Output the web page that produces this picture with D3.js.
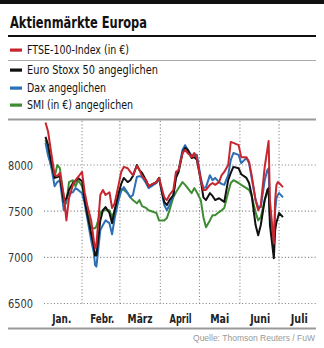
<!DOCTYPE html>
<html><head><meta charset="utf-8">
<script src="https://cdn.jsdelivr.net/npm/d3@7/dist/d3.min.js"></script>
<style>
html,body{margin:0;padding:0;background:#fff;}
svg{display:block;}
.nar{font-family:'DejaVu Sans Condensed','Liberation Sans Narrow','DejaVu Sans',sans-serif;}
</style></head>
<body>
<svg id="c" width="324" height="348"></svg>
<script>
const title = "Aktienmärkte Europa";
const source = "Quelle: Thomson Reuters / FuW";
const seriesNames = ["FTSE-100-Index (in €)", "Euro Stoxx 50 angeglichen", "Dax angeglichen", "SMI (in €) angeglichen"];
const seriesColors = ["#c8262e", "#111111", "#2b6fb6", "#3f8c34"];
const monthLabels = ["Jan.", "Febr.", "März", "April", "Mai", "Juni", "Juli"];
const yTicks = [6500, 7000, 7500, 8000];

const dates = ["01-04","01-06","01-08","01-11","01-13","01-15","01-18","01-20","01-22","01-25",
"01-27","01-29","02-01","02-03","02-05","02-08","02-10","02-11","02-12","02-15",
"02-17","02-19","02-22","02-24","02-26","02-29","03-02","03-04","03-07","03-09",
"03-11","03-14","03-16","03-18","03-21","03-23","03-29","03-31","04-04","04-06",
"04-08","04-11","04-13","04-15","04-18","04-20","04-22","04-25","04-27","04-29",
"05-02","05-04","05-06","05-09","05-11","05-13","05-16","05-18","05-20","05-23",
"05-25","05-27","05-31","06-02","06-06","06-08","06-10","06-13","06-15","06-17",
"06-20","06-22","06-23","06-24","06-27","06-28","06-29","06-30","07-01","07-04"];

const ftse = [8460,8360,8165,7890,7880,7915,7675,7400,7640,7785,
7835,7870,7925,7705,7565,7400,7185,7100,7130,7675,
7730,7675,7705,7535,7585,7785,7925,7980,7965,7925,
7890,7990,7945,7880,7835,7770,7815,7860,7650,7620,
7675,7730,7925,7945,8130,8165,8130,8085,8130,8075,
7835,7730,7730,7785,7805,7785,7815,7890,7925,8000,
8250,8240,8215,8085,8085,8035,7890,7620,7510,7565,
7980,8165,8260,7620,7150,7620,7785,7815,7805,7760];

const stoxx = [8305,8215,8055,7860,7870,7880,7600,7640,7730,7805,
7825,7860,7825,7620,7465,7260,7120,7020,7020,7400,
7510,7545,7480,7370,7510,7695,7795,7860,7815,7835,
7880,8000,7945,7915,7835,7770,7815,7860,7600,7565,
7620,7675,7860,7925,8130,8185,8165,8075,8085,8055,
7835,7650,7620,7695,7665,7620,7640,7620,7600,7835,
7915,7980,7965,7900,7860,7805,7675,7350,7240,7350,
7620,7730,7750,7350,6990,7295,7380,7425,7480,7435];

const dax = [8240,8100,8010,7770,7815,7835,7510,7640,7695,7705,
7750,7730,7695,7585,7425,7185,7055,6915,6900,7295,
7350,7400,7370,7250,7425,7620,7715,7760,7695,7650,
7675,7870,7880,7870,7805,7750,7805,7860,7565,7510,
7565,7675,7890,7945,8165,8215,8165,8100,8110,8110,
7860,7750,7760,7890,7835,7860,7815,7795,7785,7890,
8055,8130,8110,8020,8075,8020,7860,7620,7545,7545,
7835,7945,7965,7455,7075,7510,7640,7675,7695,7650];

const smi = [8270,8165,8000,7870,8000,7965,7640,7585,7815,7835,
7770,7835,7770,7640,7500,7315,7315,7315,7335,7480,
7510,7510,7510,7435,7510,7675,7740,7730,7695,7650,
7620,7585,7620,7555,7535,7510,7480,7400,7400,7425,
7510,7650,7705,7750,7815,7785,7750,7695,7750,7705,
7620,7435,7325,7400,7455,7455,7490,7510,7535,7705,
7805,7835,7805,7785,7750,7730,7665,7490,7400,7435,
7620,7705,7705,7455,7060];

const allSeries = [ftse, stoxx, dax, smi];

const svg = d3.select("#c");
const parse = d3.utcParse("%Y-%m-%d");
const dateObjs = dates.map(d => parse("2016-" + d));

const x = d3.scaleUtc().domain([Date.UTC(2016,0,1), Date.UTC(2016,6,30)]).range([41.6, 316.9]);
const y = d3.scaleLinear().domain([6500, 8000]).range([303.5, 165]);

function txt(sel, s, len) {
  const t = sel.text(s);
  if (len) t.attr("textLength", len).attr("lengthAdjust", "spacingAndGlyphs");
  return t;
}

// top bar
svg.append("rect").attr("x",0).attr("y",0).attr("width",324).attr("height",4).attr("fill","#111");
txt(svg.append("text").attr("class","nar").attr("x",10).attr("y",28)
  .attr("font-size",15).attr("font-weight","bold").attr("fill","#111"), title, 137);
svg.append("rect").attr("x",8).attr("y",35).attr("width",308).attr("height",2).attr("fill","#111");

// legend
const legY = [50, 70, 88, 105];
const legLen = [102, 131, 79, 106];
seriesNames.forEach((n,i) => {
  svg.append("rect").attr("x",10).attr("y",legY[i]-1.5).attr("width",12).attr("height",3.2).attr("fill",seriesColors[i]);
  txt(svg.append("text").attr("class","nar").attr("x",27).attr("y",legY[i]+4.2)
    .attr("font-size",12).attr("fill","#111"), n, legLen[i]);
});
svg.append("rect").attr("x",8).attr("y",60).attr("width",308).attr("height",1).attr("fill","#aaa");
svg.append("rect").attr("x",8).attr("y",118.5).attr("width",308).attr("height",2).attr("fill","#999");

// grid
const g = svg.append("g");
yTicks.forEach(t => {
  g.append("line").attr("x1",44).attr("x2",316).attr("y1",y(t)).attr("y2",y(t))
    .attr("stroke","#888").attr("stroke-width",1.1).attr("stroke-dasharray","1.1,2.2");
  txt(svg.append("text").attr("class","nar").attr("x",8).attr("y",y(t)+4.7)
    .attr("font-size",13).attr("fill","#333"), t, 25);
});
const monthStarts = d3.utcMonth.range(Date.UTC(2016,1,1), Date.UTC(2016,6,2));
monthStarts.forEach(m => {
  g.append("line").attr("x1",x(m)).attr("x2",x(m)).attr("y1",121).attr("y2",305)
    .attr("stroke","#888").attr("stroke-width",1.1).attr("stroke-dasharray","1.1,2.2");
});
const monthLen = [19, 24, 25, 22, 19, 20, 17];
const monthMids = d3.utcMonth.range(Date.UTC(2016,0,1), Date.UTC(2016,6,2)).map(m => new Date(+m + 15.5*864e5));
monthMids.forEach((m,i) => {
  txt(svg.append("text").attr("class","nar").attr("x",x(m) - monthLen[i]/2).attr("y",322.5)
    .attr("font-size",13).attr("font-weight","bold").attr("fill","#222"), monthLabels[i], monthLen[i]);
});

// lines
const line = d3.line().x((d,i) => x(dateObjs[i])).y(d => y(d));
[3,2,1,0].forEach(i => {
  svg.append("path").datum(allSeries[i]).attr("d", line).attr("fill","none")
    .attr("stroke", seriesColors[i]).attr("stroke-width",2).attr("stroke-linejoin","round");
});

svg.append("rect").attr("x",8).attr("y",327.5).attr("width",308).attr("height",2).attr("fill","#999");
txt(svg.append("text").attr("x",193).attr("y",341)
  .attr("font-family","'Liberation Sans',Arial,sans-serif").attr("font-size",9).attr("fill","#999"), source, 122);
</script>
</body></html>
